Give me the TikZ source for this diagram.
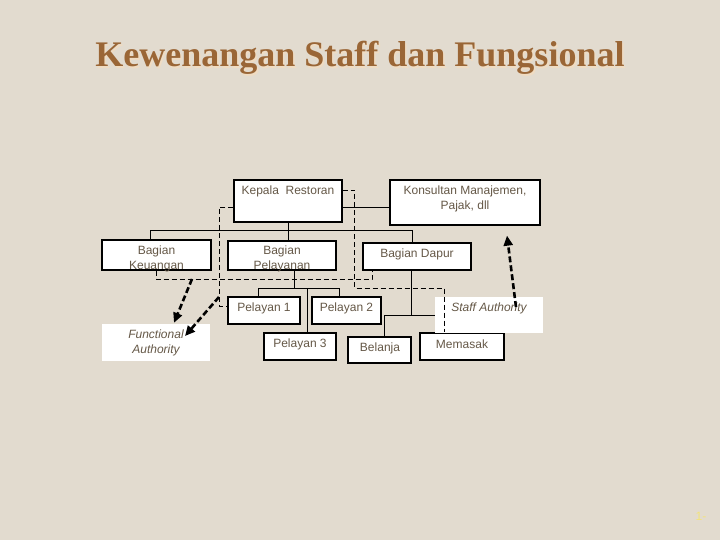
\documentclass[tikz,border=0pt]{standalone}
\usepackage{fontspec}
\setmainfont{Liberation Sans}
\newfontfamily\titlefont{Liberation Serif}
\usetikzlibrary{arrows.meta}
\definecolor{bg}{HTML}{E2DBCF}
\definecolor{ttl}{HTML}{9A6636}
\definecolor{ttlshadow}{HTML}{F0DCC2}
\definecolor{txt}{HTML}{655847}
\definecolor{pgnum}{HTML}{F3E47A}
\tikzset{
  box/.style={draw=black, line width=1.3pt, fill=white, inner sep=0pt},
  whitebox/.style={fill=white, inner sep=0pt},
  lbl/.style={text=txt, font=\fontsize{12}{15}\selectfont, inner sep=0pt, align=center},
  ilbl/.style={lbl, font=\fontsize{12}{15}\selectfont\itshape},
  conn/.style={draw=black, line width=0.9pt},
  dsh/.style={draw=black, line width=0.9pt, dash pattern=on 5pt off 3pt},
  bigarrow/.style={draw=black, line width=2.6pt, dash pattern=on 6pt off 3pt,
    -{Triangle[length=10pt,width=9pt]}},
}
\begin{document}
\begin{tikzpicture}[x=1pt,y=-1pt]
\useasboundingbox (0,0) rectangle (720,540);
\fill[bg] (0,0) rectangle (720,540);

% title
\node[text=ttlshadow, font=\titlefont\bfseries\fontsize{36}{40}\selectfont] (titleshadow) at (361.5,59.5) {Kewenangan Staff dan Fungsional};
\node[text=ttl, font=\titlefont\bfseries\fontsize{36}{40}\selectfont] (title) at (360,58) {Kewenangan Staff dan Fungsional};

% box positions
\path
  (288,201) coordinate (ckep)
  (465,202.5) coordinate (ckon)
  (156.5,255) coordinate (ckeu)
  (282,255.5) coordinate (cpel)
  (417,256.5) coordinate (cdap)
  (264,310.5) coordinate (cp1)
  (346.5,310.5) coordinate (cp2)
  (300,346.5) coordinate (cp3)
  (379.5,350) coordinate (cbel)
  (462,346.5) coordinate (cmem);

% boxes
\node[box, minimum width=108pt, minimum height=42pt] (kep) at (ckep) {};
\node[box, minimum width=150pt, minimum height=45pt] (kon) at (ckon) {};
\node[box, minimum width=109pt, minimum height=30pt] (keu) at (ckeu) {};
\node[box, minimum width=108pt, minimum height=29pt] (pel) at (cpel) {};
\node[box, minimum width=108pt, minimum height=27pt] (dap) at (cdap) {};
\node[box, minimum width=72pt, minimum height=27pt] (p1) at (cp1) {};
\node[box, minimum width=69pt, minimum height=27pt] (p2) at (cp2) {};
\node[box, minimum width=72pt, minimum height=27pt] (p3) at (cp3) {};
\node[box, minimum width=63pt, minimum height=26pt] (bel) at (cbel) {};
\node[box, minimum width=84pt, minimum height=27pt] (mem) at (cmem) {};

% solid connectors
\draw[conn] (kep.south) -- (kep.south |- pel.north);
\draw[conn] ([xshift=-6pt]keu.north) -- ++(0,-9) -| ([xshift=-5pt]dap.north);
\draw[conn] ([yshift=-6pt]kep.east) -- ([yshift=-6pt]kep.east -| kon.west);
\draw[conn] ([xshift=12pt]pel.south) -- ++(0,18) coordinate (pb);
\draw[conn] ([xshift=-6pt]p1.north) |- (pb) -| ([xshift=-7.5pt]p2.north);
\draw[conn] ([xshift=7pt]p3.north) |- (pb);
\draw[conn] ([xshift=-6pt]dap.south) -- ++(0,45) coordinate (db);
\draw[conn] ([xshift=4.5pt]bel.north) |- (db) -| (mem.north);

% white label panels
\node[whitebox, minimum width=108pt, minimum height=36pt] (sa) at (489,315) {};
\node[whitebox, minimum width=108pt, minimum height=37pt] (fa) at (156,342.5) {};

% texts
\node[lbl] (tkep) at (288,191) {Kepala\ \ Restoran};
\node[lbl] (tkon) at (465,198.5) {Konsultan Manajemen,\\Pajak, dll};
\node[lbl] (tkeu) at (156.5,258.5) {Bagian\\Keuangan};
\node[lbl] (tpel) at (282,258.5) {Bagian\\Pelayanan};
\node[lbl] (tdap) at (417,254) {Bagian Dapur};
\node[lbl] (tp1) at (264,308) {Pelayan 1};
\node[lbl] (tp2) at (346.5,308) {Pelayan 2};
\node[lbl] (tp3) at (300,344) {Pelayan 3};
\node[lbl] (tbel) at (380,348) {Belanja};
\node[lbl] (tmem) at (462,344) {Memasak};
\node[ilbl] (tsa) at (489,308) {Staff Authority};
\node[ilbl] (tfa) at (156,342.5) {Functional\\Authority};

% dashed staff lines
\draw[dsh] ([yshift=11pt]kep.east) -- ++(12,0) -- ++(0,98) -| ([xshift=-18pt]mem.north);
\draw[dsh] ([yshift=-6pt]kep.west) -- ++(-14,0) |- ([yshift=4.5pt]p1.west);
\draw[dsh] (keu.south) -- ++(0,9) -| ([xshift=-45pt]dap.south);

% thick dashed arrows
\coordinate (a1s) at (192,279);
\coordinate (a2s) at (219,297);
\coordinate (a2e) at (185,336);
\coordinate (a3s) at (516,307);
\draw[bigarrow] (a1s) -- ([xshift=18pt,yshift=1pt]fa.north);
\draw[bigarrow] (a2s) -- (a2e);
\draw[bigarrow] (a3s) -- ([xshift=42pt,yshift=-10pt]kon.south);

% page number
\node[text=pgnum, font=\fontsize{12}{14}\selectfont] (pg) at (701,516) {1-};
\end{tikzpicture}
\end{document}
